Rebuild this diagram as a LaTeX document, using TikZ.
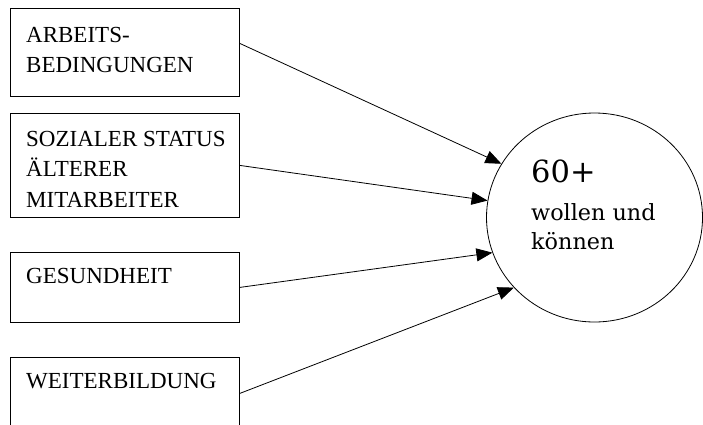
\documentclass[tikz,border=0pt]{standalone}
\usepackage{fontspec}
\setmainfont{Liberation Serif}
\newfontfamily\circfont{DejaVu Serif}
\usetikzlibrary{arrows.meta,shapes.geometric,calc}
\tikzset{
  boxstyle/.style={draw, line width=0.8pt, rectangle, anchor=north west, inner sep=0pt},
  boxtext/.style={anchor=north west, inner sep=0pt, align=left, font=\fontsize{23}{30.5}\selectfont},
  circstyle/.style={draw, line width=0.8pt, ellipse, inner sep=0pt, minimum width=216pt, minimum height=209pt},
  circbig/.style={anchor=north west, inner sep=0pt, font=\circfont\fontsize{30.5}{36}\selectfont},
  circsmall/.style={anchor=north west, inner sep=0pt, align=left, font=\circfont\fontsize{22.3}{29.5}\selectfont},
  conn/.style={line width=0.8pt, -{Triangle[length=16pt,width=13pt]}}
}
\begin{document}
\begin{tikzpicture}[x=1pt,y=-1pt]
\useasboundingbox (0,0) rectangle (703,424);
\clip (0,0) rectangle (703,424);
% boxes
\node[boxstyle, minimum width=229pt, minimum height=88pt] (b1) at (10,8) {};
\node[boxstyle, minimum width=229pt, minimum height=104pt] (b2) at (10,113) {};
\node[boxstyle, minimum width=229pt, minimum height=70pt] (b3) at (10,252) {};
\node[boxstyle, minimum width=229pt, minimum height=72pt] (b4) at (10,357) {};
% box texts
\node[boxtext] (t1) at (26,26.6) {ARBEITS-\\BEDINGUNGEN};
\node[boxtext] (t2) at (26,130.9) {SOZIALER STATUS\\ÄLTERER\\MITARBEITER};
\node[boxtext] (t3) at (26,267.6) {GESUNDHEIT};
\node[boxtext] (t4) at (26,372.9) {WEITERBILDUNG};
% circle
\node[circstyle] (c) at (594.5,217.5) {};
\node[circbig] (c1) at (531,160) {60+};
\node[circsmall] (c2) at (531,203.3) {wollen und\\können};
% connectors
\coordinate (s1) at ($(b1.east)+(0,-9)$);
\draw[conn] (s1) -- (c.150.4);
\draw[conn] (b2.east) -- (c.171.8);
\draw[conn] (b3.east) -- (c.199);
\draw[conn] (b4.east) -- (c.221.5);
\end{tikzpicture}
\end{document}
